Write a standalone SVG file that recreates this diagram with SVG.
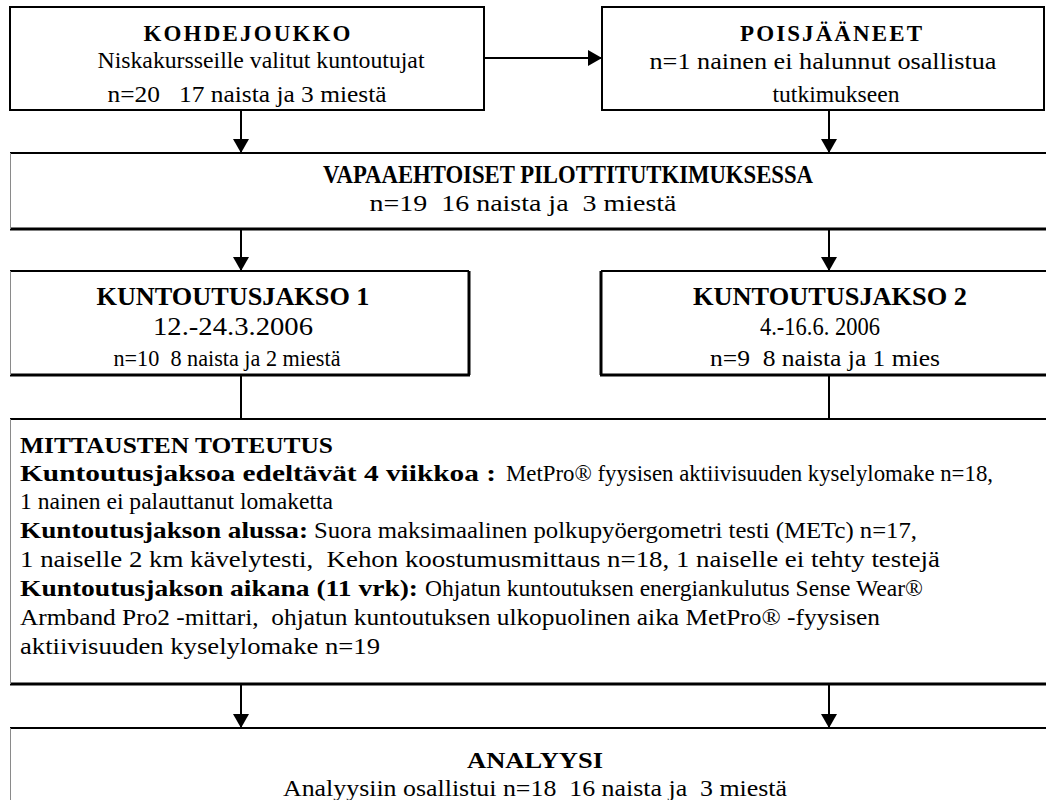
<svg xmlns="http://www.w3.org/2000/svg" width="1046" height="800" viewBox="0 0 1046 800">
<style>
.bg{fill:#fff}
.edge{fill:none;stroke:#000;stroke-width:2}
.thick{fill:none;stroke:#000;stroke-width:3}
.thin{fill:none;stroke:#8a8a8a;stroke-width:1}
.t{font-family:"Liberation Serif","Times New Roman",serif;fill:#000;white-space:pre}
.s23{font-size:23px}
.s24{font-size:24px}
.s26{font-size:26px}
.b{font-weight:bold}
.c{text-anchor:middle}
.conn{stroke:#000;stroke-width:2;fill:none}
</style>
<defs>
<marker id="ah" markerUnits="userSpaceOnUse" markerWidth="16" markerHeight="16" refX="14" refY="8" orient="auto">
<path d="M0,0 L14,8 L0,16 z" fill="#000"/>
</marker>
</defs>
<rect width="1046" height="800" fill="#fff"/>

<g id="connectors">
<line class="conn" x1="484" y1="58" x2="602" y2="58" marker-end="url(#ah)"/>
<line class="conn" x1="241" y1="110" x2="241" y2="153" marker-end="url(#ah)"/>
<line class="conn" x1="829" y1="110" x2="829" y2="153" marker-end="url(#ah)"/>
<line class="conn" x1="241" y1="229" x2="241" y2="271" marker-end="url(#ah)"/>
<line class="conn" x1="829" y1="229" x2="829" y2="271" marker-end="url(#ah)"/>
<line class="conn" x1="241" y1="375" x2="241" y2="419"/>
<line class="conn" x1="829" y1="375" x2="829" y2="419"/>
<line class="conn" x1="241" y1="685" x2="241" y2="728" marker-end="url(#ah)"/>
<line class="conn" x1="829" y1="685" x2="829" y2="728" marker-end="url(#ah)"/>
</g>

<g id="kohdejoukko">
<rect class="bg edge" x="10" y="7" width="474" height="103"/>
<text class="t s23 b c" x="247" y="41" textLength="207" lengthAdjust="spacing">KOHDEJOUKKO</text>
<text class="t s24 c" x="261" y="68" textLength="327" lengthAdjust="spacingAndGlyphs">Niskakursseille valitut kuntoutujat</text>
<text class="t s24 c" x="247" y="102" textLength="279" lengthAdjust="spacingAndGlyphs">n=20   17 naista ja 3 miestä</text>
</g>

<g id="poisjaaneet">
<rect class="bg edge" x="602" y="7" width="442" height="103"/>
<text class="t s23 b c" x="831" y="41" textLength="182" lengthAdjust="spacing">POISJÄÄNEET</text>
<text class="t s24 c" x="823" y="69" textLength="347" lengthAdjust="spacingAndGlyphs">n=1 nainen ei halunnut osallistua</text>
<text class="t s24 c" x="836" y="102" textLength="127" lengthAdjust="spacingAndGlyphs">tutkimukseen</text>
</g>

<g id="vapaaehtoiset">
<rect class="bg" x="10" y="153" width="1046" height="76"/>
<line class="edge" x1="10" y1="153" x2="1046" y2="153"/>
<line class="thick" x1="10" y1="229" x2="1046" y2="229"/>
<line class="thin" x1="10.5" y1="153" x2="10.5" y2="229"/>
<text class="t s26 b c" x="568" y="183" textLength="490" lengthAdjust="spacingAndGlyphs">VAPAAEHTOISET PILOTTITUTKIMUKSESSA</text>
<text class="t s24 c" x="523" y="211" textLength="307" lengthAdjust="spacingAndGlyphs">n=19  16 naista ja  3 miestä</text>
</g>

<g id="kuntoutusjakso1">
<rect class="bg" x="10" y="271" width="459" height="104"/>
<line class="edge" x1="10" y1="271" x2="469" y2="271"/>
<line class="thick" x1="10" y1="375" x2="470" y2="375"/>
<line class="thick" x1="469" y1="271" x2="469" y2="375"/>
<line class="thin" x1="10.5" y1="271" x2="10.5" y2="375"/>
<text class="t s26 b c" x="233" y="305" textLength="273" lengthAdjust="spacingAndGlyphs">KUNTOUTUSJAKSO 1</text>
<text class="t s26 c" x="233" y="335" textLength="160" lengthAdjust="spacingAndGlyphs">12.-24.3.2006</text>
<text class="t s24 c" x="227" y="366" textLength="227" lengthAdjust="spacingAndGlyphs">n=10  8 naista ja 2 miestä</text>
</g>

<g id="kuntoutusjakso2">
<rect class="bg" x="601" y="271" width="445" height="104"/>
<line class="edge" x1="601" y1="271" x2="1046" y2="271"/>
<line class="thick" x1="600" y1="375" x2="1046" y2="375"/>
<line class="thick" x1="601" y1="271" x2="601" y2="375"/>
<text class="t s26 b c" x="830" y="305" textLength="274" lengthAdjust="spacingAndGlyphs">KUNTOUTUSJAKSO 2</text>
<text class="t s26 c" x="820" y="335" textLength="120" lengthAdjust="spacingAndGlyphs">4.-16.6. 2006</text>
<text class="t s24 c" x="825" y="366" textLength="230" lengthAdjust="spacingAndGlyphs">n=9  8 naista ja 1 mies</text>
</g>

<g id="mittausten-toteutus">
<rect class="bg" x="10" y="419" width="1046" height="265"/>
<line class="edge" x1="10" y1="419" x2="1046" y2="419"/>
<line class="thick" x1="10" y1="684" x2="1046" y2="684"/>
<line class="thin" x1="10.5" y1="419" x2="10.5" y2="684"/>
<text class="t s24 b" x="20" y="453" textLength="313" lengthAdjust="spacingAndGlyphs">MITTAUSTEN TOTEUTUS</text>
<text class="t s24 b" x="20" y="481" textLength="476" lengthAdjust="spacingAndGlyphs">Kuntoutusjaksoa edeltävät 4 viikkoa :</text>
<text class="t s24" x="506" y="481" textLength="487" lengthAdjust="spacingAndGlyphs">MetPro® fyysisen aktiivisuuden kyselylomake n=18,</text>
<text class="t s24" x="20" y="509" textLength="313" lengthAdjust="spacingAndGlyphs">1 nainen ei palauttanut lomaketta</text>
<text class="t s24 b" x="20" y="538" textLength="288" lengthAdjust="spacingAndGlyphs">Kuntoutusjakson alussa:</text>
<text class="t s24" x="314" y="538" textLength="603" lengthAdjust="spacingAndGlyphs">Suora maksimaalinen polkupyöergometri testi (METc) n=17,</text>
<text class="t s24" x="20" y="567" textLength="920" lengthAdjust="spacingAndGlyphs">1 naiselle 2 km kävelytesti,  Kehon koostumusmittaus n=18, 1 naiselle ei tehty testejä</text>
<text class="t s24 b" x="20" y="596" textLength="398" lengthAdjust="spacingAndGlyphs">Kuntoutusjakson aikana (11 vrk):</text>
<text class="t s24" x="425" y="596" textLength="498" lengthAdjust="spacingAndGlyphs">Ohjatun kuntoutuksen energiankulutus Sense Wear®</text>
<text class="t s24" x="20" y="625" textLength="860" lengthAdjust="spacingAndGlyphs">Armband Pro2 -mittari,  ohjatun kuntoutuksen ulkopuolinen aika MetPro® -fyysisen</text>
<text class="t s24" x="20" y="654" textLength="360" lengthAdjust="spacingAndGlyphs">aktiivisuuden kyselylomake n=19</text>
</g>

<g id="analyysi">
<rect class="bg" x="10" y="728" width="1046" height="80"/>
<line class="edge" x1="10" y1="728" x2="1046" y2="728"/>
<line class="thin" x1="10.5" y1="728" x2="10.5" y2="800"/>
<text class="t s24 b c" x="535" y="768" textLength="136" lengthAdjust="spacingAndGlyphs">ANALYYSI</text>
<text class="t s24 c" x="535" y="796" textLength="504" lengthAdjust="spacingAndGlyphs">Analyysiin osallistui n=18  16 naista ja  3 miestä</text>
</g>
</svg>
